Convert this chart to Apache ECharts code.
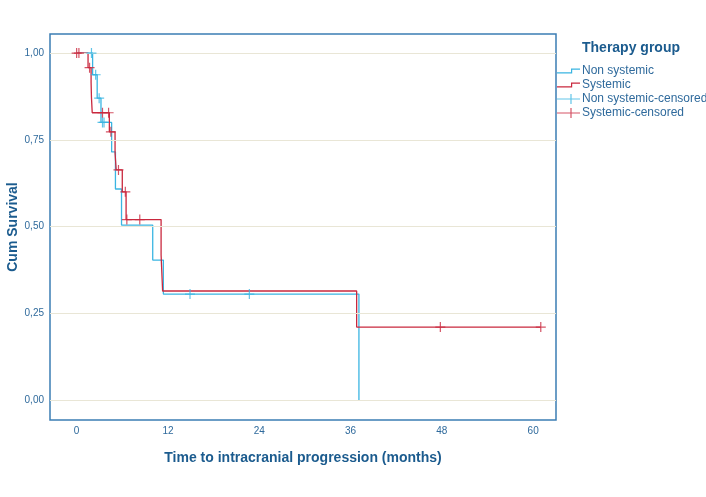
<!DOCTYPE html>
<html>
<head>
<meta charset="utf-8">
<script src="https://cdn.jsdelivr.net/npm/echarts@6/dist/echarts.min.js"></script>
<style>
  html, body { margin: 0; padding: 0; background: #fff; }
  #main { width: 706px; height: 497px; }
</style>
</head>
<body>
<div id="main"></div>
<script>
  // Kaplan-Meier steps [months, cum survival]
  var nonSystemicSteps = [[0, 1], [2.1, 0.9375], [2.7, 0.87], [3.2, 0.80], [4.6, 0.715],
    [5.1, 0.608], [5.9, 0.504], [10.0, 0.403], [11.4, 0.305], [37.1, 0]];
  var systemicSteps = [[0, 1], [1.5, 0.958], [1.9, 0.915], [1.95, 0.871], [2.05, 0.828],
    [4.3, 0.773], [5.05, 0.712], [5.2, 0.663], [6.0, 0.60], [6.5, 0.52], [11.1, 0.418],
    [11.3, 0.314], [36.8, 0.21], [61, 0.21]];
  // censored observations
  var nonSystemicCensored = [[1.95, 1], [2.5, 0.9375], [2.96, 0.87], [3.4, 0.80], [3.6, 0.80],
    [14.9, 0.305], [22.7, 0.305]];
  var systemicCensored = [[0, 1], [0.3, 1], [1.7, 0.958], [3.4, 0.828], [4.2, 0.828],
    [4.5, 0.773], [5.5, 0.663], [6.4, 0.60], [6.6, 0.52], [8.3, 0.52], [47.8, 0.21], [61, 0.21]];
  var xTicks = [0, 12, 24, 36, 48, 60];
  var yTicks = [0, 0.25, 0.5, 0.75, 1];

  var blue = '#3ab5e2';
  var red = '#c9283e';
  var textBlue = '#2f6a9c';
  var titleBlue = '#1b5b8e';
  var plusPath = 'path://M0,4.4 L10,4.4 L10,5.6 L0,5.6 Z M4.4,0 L5.6,0 L5.6,10 L4.4,10 Z';
  var stepIcon = 'path://M0,3.8 L14,3.8 L14,0 L23,0 L23,1.2 L15.2,1.2 L15.2,5 L0,5 Z';
  var plusIcon = 'path://M0,4.4 L23,4.4 L23,5.6 L0,5.6 Z M13.4,0 L14.6,0 L14.6,10 L13.4,10 Z';

  var chart = echarts.init(document.getElementById('main'));
  var option = {
    backgroundColor: '#fff',
    animation: false,
    textStyle: { fontFamily: 'Liberation Sans, Arial, sans-serif' },
    title: {
      text: 'Therapy group',
      left: 577, top: 36,
      textStyle: { fontSize: 14, fontWeight: 'bold', color: titleBlue, fontFamily: 'Liberation Sans, Arial, sans-serif' }
    },
    legend: {
      orient: 'vertical',
      left: 557, top: 65, padding: 0,
      itemWidth: 23, itemHeight: 10, itemGap: 2,
      textStyle: { fontSize: 12, color: textBlue, padding: [0, 0, 0, -3] },
      data: [
        { name: 'Non systemic', icon: stepIcon, itemStyle: { color: blue } },
        { name: 'Systemic', icon: stepIcon, itemStyle: { color: red } },
        { name: 'Non systemic-censored', icon: plusIcon, itemStyle: { color: blue } },
        { name: 'Systemic-censored', icon: plusIcon, itemStyle: { color: red } }
      ]
    },
    grid: {
      left: 50, right: 150, top: 34, bottom: 77,
      outerBoundsMode: 'none', containLabel: false,
      show: true, borderColor: '#3b7db4', borderWidth: 1.5, backgroundColor: '#fff'
    },
    xAxis: {
      type: 'value', min: -3.5, max: 63,
      name: 'Time to intracranial progression (months)',
      nameLocation: 'middle', nameGap: 31, nameMoveOverlap: false,
      nameTextStyle: { fontSize: 14, fontWeight: 'bold', color: titleBlue },
      axisLine: { show: false }, axisTick: { show: false }, splitLine: { show: false },
      axisLabel: { customValues: xTicks, fontSize: 10, color: textBlue, margin: 6 }
    },
    yAxis: {
      type: 'value', min: -0.058, max: 1.055,
      name: 'Cum Survival',
      nameLocation: 'middle', nameGap: 30, nameMoveOverlap: false,
      nameTextStyle: { fontSize: 14, fontWeight: 'bold', color: titleBlue },
      axisLine: { show: false }, axisTick: { show: false }, splitLine: { show: false },
      axisLabel: {
        customValues: yTicks, fontSize: 10, color: textBlue, margin: 6,
        formatter: function (v) { return v.toFixed(2).replace('.', ','); }
      }
    },
    series: [
      {
        name: 'gridlines', type: 'line', data: [], silent: true,
        markLine: {
          silent: true, symbol: 'none', label: { show: false },
          lineStyle: { color: '#e9e6d6', width: 1, type: 'solid' },
          data: yTicks.map(function (v) { return { yAxis: v }; })
        }
      },
      {
        name: 'Non systemic', type: 'line', step: 'end', data: nonSystemicSteps,
        showSymbol: false, lineStyle: { color: blue, width: 1.3 }, itemStyle: { color: blue }, z: 3
      },
      {
        name: 'Systemic', type: 'line', step: 'end', data: systemicSteps,
        showSymbol: false, lineStyle: { color: red, width: 1.3 }, itemStyle: { color: red }, z: 4
      },
      {
        name: 'Non systemic-censored', type: 'scatter', data: nonSystemicCensored,
        symbol: plusPath, symbolSize: 10, itemStyle: { color: blue }, z: 5
      },
      {
        name: 'Systemic-censored', type: 'scatter', data: systemicCensored,
        symbol: plusPath, symbolSize: 10, itemStyle: { color: red }, z: 6
      }
    ]
  };
  chart.setOption(option);
</script>
</body>
</html>
